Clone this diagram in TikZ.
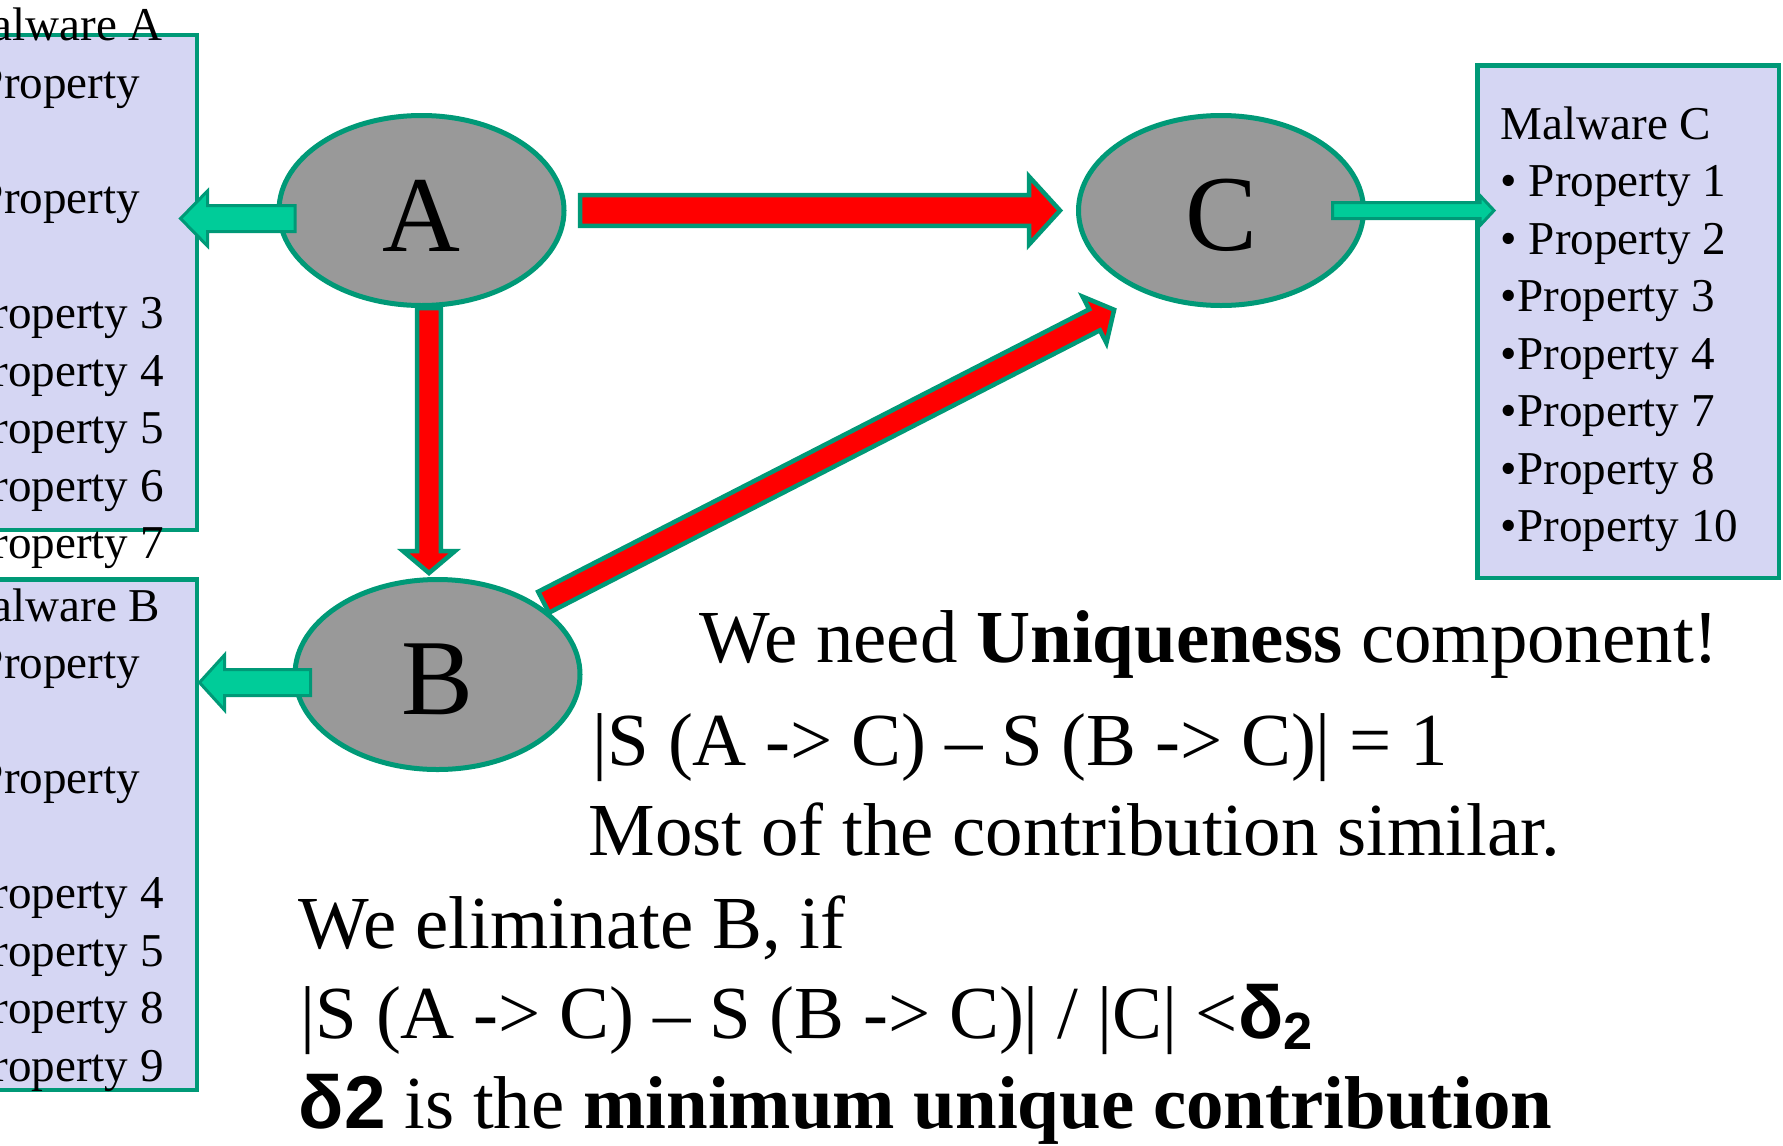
\documentclass[tikz,border=0pt]{standalone}
\usepackage{fontspec}
\setmainfont{Liberation Serif}
\newfontfamily\deltafont{Liberation Sans}
\usetikzlibrary{shapes.geometric,calc}

\definecolor{boxfill}{RGB}{213,214,243}
\definecolor{edgegreen}{RGB}{0,153,119}
\definecolor{tealfill}{RGB}{0,204,153}

% block arrow: style, start, tip, shaft half width, head half width, head length
\newcommand{\blockarrow}[6]{%
\coordinate (ba-b) at ($(#3)!#6!(#2)$);
\draw[#1] ($(#2)!#4!90:(#3)$)--($(ba-b)!#4!90:(#3)$)--($(ba-b)!#5!90:(#3)$)--(#3)
--($(ba-b)!#5!-90:(#3)$)--($(ba-b)!#4!-90:(#3)$)--($(#2)!#4!-90:(#3)$)--cycle;
}

\begin{document}
\begin{tikzpicture}[x=0.1mm,y=-0.1mm,
pbox/.style={%
draw=edgegreen,
fill=boxfill,
line width=0.45mm,
inner sep=0,
outer sep=0,
},
plist/.style={%
anchor=base west,
inner sep=0,
font=\fontsize{13.4}{16}\selectfont,
},
ell/.style={%
ellipse,
draw=edgegreen,
fill=gray!80,
line width=0.5mm,
minimum width=28.5mm,
minimum height=19mm,
inner sep=0,
outer sep=0,
text height=8.1mm,
font=\fontsize{30.7}{31}\selectfont,
},
redarrow/.style={draw=edgegreen,fill=red,line width=0.45mm},
tealarrow/.style={draw=edgegreen,fill=tealfill,line width=0.3mm},
body/.style={%
anchor=base west,
inner sep=0,
font=\fontsize{21.3}{25}\selectfont,
},
]
\useasboundingbox(0,0)rectangle(1783,1145);
%% Malware boxes
\node[pbox,anchor=north east,minimum width=24mm,minimum height=49.5mm]at(197,35)(boxA){};
\node[pbox,anchor=north east,minimum width=24mm,minimum height=51.05mm]at(197,579.5)(boxB){};
\node[pbox,anchor=north west,minimum width=30.15mm,minimum height=51.25mm]at(1477.5,65.5)(boxC){};
\foreach \i/\lbl in {0/Malware A,1/• Property,3/• Property,5/•Property 3,6/•Property 4,7/•Property 5,8/•Property 6,9/•Property 7}{%
\node[plist]at(-51,41+57.5*\i)(la\i){\lbl};
}
\foreach \i/\lbl in {0/Malware B,1/• Property,3/• Property,5/•Property 4,6/•Property 5,7/•Property 8,8/•Property 9}{%
\node[plist]at(-51,621+57.5*\i)(lb\i){\lbl};
}
\foreach \i/\lbl in {0/Malware C,1/• Property 1,2/• Property 2,3/•Property 3,4/•Property 4,5/•Property 7,6/•Property 8,7/•Property 10}{%
\node[plist]at(1500,139+57.5*\i)(lc\i){\lbl};
}
%% Malware nodes
\node[ell]at(421.5,210.5)(A){A};
\node[ell]at(1221,210.5)(C){C};
\node[ell]at(437.5,674.5)(B){B};
%% Red arrows
\coordinate (ac-s) at ([shift={(16,0)}]A.east);
\coordinate (ac-e) at ([shift={(-18.5,0)}]C.west);
\blockarrow{redarrow}{ac-s}{ac-e}{1.53mm}{3.4mm}{3.1mm}
\coordinate (ab-s) at ([shift={(7.5,2.5)}]A.south);
\coordinate (ab-e) at ([shift={(-8.5,-6.5)}]B.north);
\blockarrow{redarrow}{ab-s}{ab-e}{1.18mm}{2.6mm}{2.2mm}
\coordinate (bc-s) at ([shift={(4,-6)}]B.33);
\coordinate (bc-e) at ([shift={(-24,22)}]C.223);
\blockarrow{redarrow}{bc-s}{bc-e}{1.18mm}{2.6mm}{2.2mm}
%% Teal arrows
\coordinate (aa-s) at ([shift={(16,8)}]A.west);
\path (aa-s -| boxA.east) ++(-16.5,0) coordinate (aa-e);
\blockarrow{tealarrow}{aa-s}{aa-e}{1.3mm}{2.75mm}{2.7mm}
\coordinate (bb-s) at ([shift={(15.5,8)}]B.west);
\path (bb-s -| boxB.east) ++(2.5,0) coordinate (bb-e);
\blockarrow{tealarrow}{bb-s}{bb-e}{1.3mm}{2.75mm}{2.5mm}
\coordinate (cc-s) at ([shift={(-31,0)}]C.east);
\path (cc-s -| boxC.west) ++(16.5,0) coordinate (cc-e);
\blockarrow{tealarrow}{cc-s}{cc-e}{0.8mm}{1.5mm}{1.4mm}
%% Notes
\node[body]at(699,662)(n1){We need \textbf{Uniqueness} component!};
\node[body]at(592,765)(n2){|S (A -> C) – S (B -> C)| = 1};
\node[body]at(588,855)(n3){Most of the contribution similar.};
\node[body]at(298,948)(n4){We eliminate B, if};
\node[body]at(300,1038)(n5){|S (A -> C) – S (B -> C)| / |C| <{\deltafont\bfseries δ\textsubscript{2}}};
\node[body]at(298,1128)(n6){{\deltafont\bfseries δ2} is the \textbf{minimum unique contribution}};
\end{tikzpicture}
\end{document}
